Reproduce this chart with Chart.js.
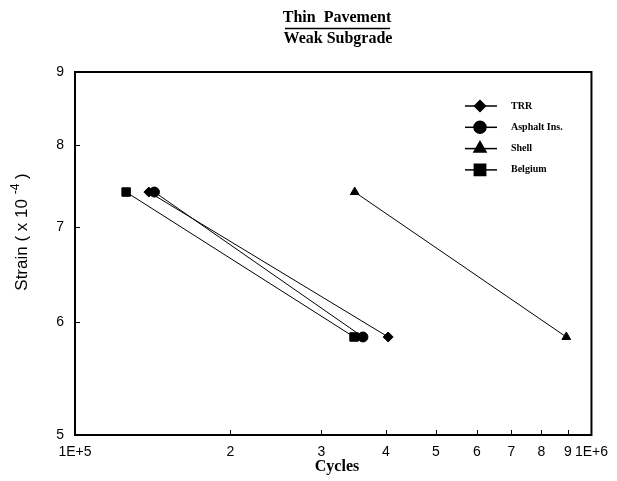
<!DOCTYPE html>
<html>
<head>
<meta charset="utf-8">
<script src="https://cdn.jsdelivr.net/npm/chart.js@4/dist/chart.umd.min.js"></script>
<style>
  html, body { margin: 0; padding: 0; background: #fff; }
  #wrap { width: 617px; height: 481px; position: relative; }
</style>
</head>
<body>
<div id="wrap"><canvas id="c" width="617" height="481"></canvas></div>
<script>
// Thin Pavement / Weak Subgrade: strain vs cycles, both axes log
const SERIES = ["TRR", "Asphalt Ins.", "Shell", "Belgium"];
const MARKERS = ["rectRot", "circle", "triangle", "rect"];
const MARKER_SIZE = [5, 5, 5, 6];
const LEGEND_SIZE = [5.5, 6, 7, 8];

// cycles (x) per series: start and end
const TRR_X = [139000, 404000];
const ASPHALT_X = [142500, 361000];
const SHELL_X = [348000, 894000];
const BELGIUM_X = [125600, 347000];

// strain (x 10^-4)
const TRR_Y = [7.41, 5.86];
const ASPHALT_Y = [7.41, 5.86];
const SHELL_Y = [7.41, 5.86];
const BELGIUM_Y = [7.41, 5.86];

const X_TICKS = [1e5, 2e5, 3e5, 4e5, 5e5, 6e5, 7e5, 8e5, 9e5, 1e6];
const X_TICK_LABELS = ["1E+5", "2", "3", "4", "5", "6", "7", "8", "9", "1E+6"];
const Y_TICKS = [5, 6, 7, 8, 9];

const SERIF = "'Liberation Serif', 'DejaVu Serif', serif";
const SANS = "'Liberation Sans', Arial, sans-serif";

function pts(xs, ys) {
    return xs.map((x, i) => ({ x: x, y: ys[i] }));
}

const XS = [TRR_X, ASPHALT_X, SHELL_X, BELGIUM_X];
const YS = [TRR_Y, ASPHALT_Y, SHELL_Y, BELGIUM_Y];

const datasets = SERIES.map((name, i) => ({
    label: name,
    data: pts(XS[i], YS[i]),
    borderColor: "#000",
    backgroundColor: "#000",
    borderWidth: 1,
    pointStyle: MARKERS[i],
    pointRadius: MARKER_SIZE[i],
    showLine: true,
    tension: 0,
}));

// frame, inward ticks, titles, legend
const decor = {
    id: "decor",
    afterDraw(chart) {
        const ctx = chart.ctx;
        const a = chart.chartArea;
        const xs = chart.scales.x;
        const ys = chart.scales.y;
        ctx.save();
        ctx.strokeStyle = "#000";
        ctx.lineWidth = 2;
        ctx.strokeRect(a.left, a.top, a.right - a.left, a.bottom - a.top);

        // small tick marks pointing inward
        ctx.lineWidth = 1;
        ctx.beginPath();
        X_TICKS.slice(1, -1).forEach((v) => {
            const px = Math.round(xs.getPixelForValue(v)) + 0.5;
            ctx.moveTo(px, a.bottom);
            ctx.lineTo(px, a.bottom - 5);
        });
        Y_TICKS.slice(1, -1).forEach((v) => {
            const py = Math.round(ys.getPixelForValue(v)) + 0.5;
            ctx.moveTo(a.left, py);
            ctx.lineTo(a.left + 5, py);
        });
        ctx.stroke();

        // title
        ctx.fillStyle = "#000";
        ctx.textAlign = "center";
        ctx.textBaseline = "middle";
        ctx.font = "bold 16px " + SERIF;
        ctx.fillText("Thin  Pavement", 337, 18);
        ctx.fillText("Weak Subgrade", 338, 39);
        ctx.lineWidth = 1.5;
        ctx.beginPath();
        ctx.moveTo(285, 28.5);
        ctx.lineTo(390, 28.5);
        ctx.stroke();

        // axis titles
        ctx.font = "bold 16px " + SERIF;
        ctx.fillText("Cycles", 337, 467);

        ctx.save();
        ctx.translate(22, 232);
        ctx.rotate(-Math.PI / 2);
        const t1 = "Strain ( x 10 ";
        const t2 = "-4";
        const t3 = " )";
        ctx.font = "17px " + SANS;
        const w1 = ctx.measureText(t1).width;
        const w3 = ctx.measureText(t3).width;
        ctx.font = "12px " + SANS;
        const w2 = ctx.measureText(t2).width;
        const x0 = -(w1 + w2 + w3) / 2;
        ctx.textAlign = "left";
        ctx.font = "17px " + SANS;
        ctx.fillText(t1, x0, 0);
        ctx.font = "12px " + SANS;
        ctx.fillText(t2, x0 + w1, -6);
        ctx.font = "17px " + SANS;
        ctx.fillText(t3, x0 + w1 + w2, 0);
        ctx.restore();

        // legend
        ctx.font = "bold 10px " + SERIF;
        ctx.textAlign = "left";
        SERIES.forEach((name, i) => {
            const ly = 106 + i * 21.3;
            ctx.lineWidth = 1.5;
            ctx.beginPath();
            ctx.moveTo(465, ly);
            ctx.lineTo(497, ly);
            ctx.stroke();
            Chart.helpers.drawPoint(ctx, {
                pointStyle: MARKERS[i],
                radius: LEGEND_SIZE[i],
                rotation: 0,
                borderWidth: 1,
            }, 480, ly);
            ctx.fill();
            ctx.fillText(name, 511, ly);
        });
        ctx.restore();
    },
};

new Chart(document.getElementById("c"), {
    type: "scatter",
    data: { datasets },
    options: {
        responsive: false,
        animation: false,
        events: [],
        layout: { padding: { top: 72, right: 20, left: 0, bottom: 0 } },
        plugins: { legend: { display: false }, tooltip: { enabled: false } },
        scales: {
            x: {
                type: "logarithmic",
                min: 1e5,
                max: 1e6,
                afterBuildTicks: (s) => { s.ticks = X_TICKS.map((v) => ({ value: v })); },
                afterFit: (s) => { s.height = 46; },
                grid: { display: false, drawTicks: false },
                border: { display: false },
                ticks: {
                    autoSkip: false,
                    maxRotation: 0,
                    padding: 9,
                    color: "#000",
                    font: { family: SANS, size: 14 },
                    callback: (v, i) => X_TICK_LABELS[i],
                },
            },
            y: {
                type: "logarithmic",
                min: 5,
                max: 9,
                afterBuildTicks: (s) => { s.ticks = Y_TICKS.map((v) => ({ value: v })); },
                afterFit: (s) => { s.width = 75; },
                grid: { display: false, drawTicks: false },
                border: { display: false },
                ticks: {
                    padding: 11,
                    color: "#000",
                    font: { family: SANS, size: 14 },
                    callback: (v) => String(v),
                },
            },
        },
    },
    plugins: [decor],
});
</script>
</body>
</html>
